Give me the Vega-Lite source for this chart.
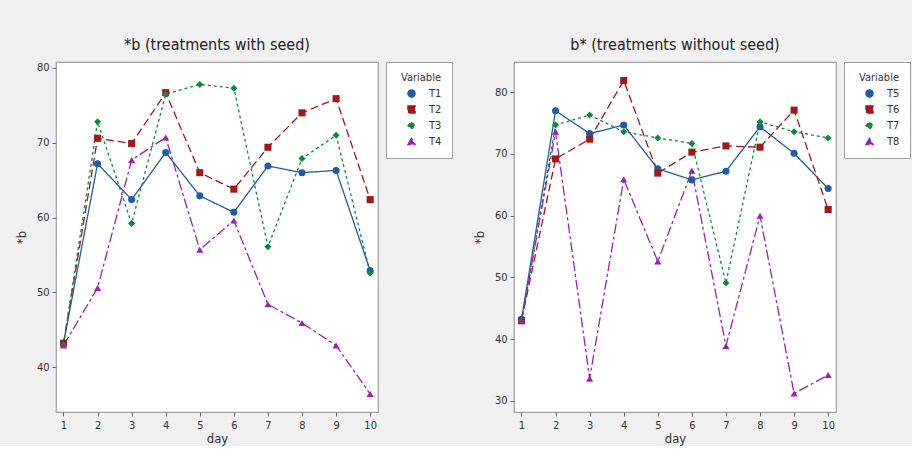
{
  "$schema": "https://vega.github.io/schema/vega-lite/v6.json",
  "background": "#f0f0f0",
  "padding": {"left": 14, "top": 35, "right": 0, "bottom": 0},
  "spacing": 18,
  "datasets": {
    "seed": [
      {"day": 1, "b": 43.2, "Variable": "T1"}, {"day": 2, "b": 67.2, "Variable": "T1"}, {"day": 3, "b": 62.4, "Variable": "T1"}, {"day": 4, "b": 68.7, "Variable": "T1"}, {"day": 5, "b": 62.9, "Variable": "T1"},
      {"day": 6, "b": 60.7, "Variable": "T1"}, {"day": 7, "b": 66.9, "Variable": "T1"}, {"day": 8, "b": 66.0, "Variable": "T1"}, {"day": 9, "b": 66.3, "Variable": "T1"}, {"day": 10, "b": 52.9, "Variable": "T1"},
      {"day": 1, "b": 43.2, "Variable": "T2"}, {"day": 2, "b": 70.6, "Variable": "T2"}, {"day": 3, "b": 69.9, "Variable": "T2"}, {"day": 4, "b": 76.7, "Variable": "T2"}, {"day": 5, "b": 66.0, "Variable": "T2"},
      {"day": 6, "b": 63.8, "Variable": "T2"}, {"day": 7, "b": 69.4, "Variable": "T2"}, {"day": 8, "b": 74.0, "Variable": "T2"}, {"day": 9, "b": 75.9, "Variable": "T2"}, {"day": 10, "b": 62.4, "Variable": "T2"},
      {"day": 1, "b": 43.0, "Variable": "T3"}, {"day": 2, "b": 72.8, "Variable": "T3"}, {"day": 3, "b": 59.2, "Variable": "T3"}, {"day": 4, "b": 76.5, "Variable": "T3"}, {"day": 5, "b": 77.8, "Variable": "T3"},
      {"day": 6, "b": 77.3, "Variable": "T3"}, {"day": 7, "b": 56.1, "Variable": "T3"}, {"day": 8, "b": 67.9, "Variable": "T3"}, {"day": 9, "b": 71.0, "Variable": "T3"}, {"day": 10, "b": 52.6, "Variable": "T3"},
      {"day": 1, "b": 42.9, "Variable": "T4"}, {"day": 2, "b": 50.6, "Variable": "T4"}, {"day": 3, "b": 67.7, "Variable": "T4"}, {"day": 4, "b": 70.7, "Variable": "T4"}, {"day": 5, "b": 55.7, "Variable": "T4"},
      {"day": 6, "b": 59.6, "Variable": "T4"}, {"day": 7, "b": 48.4, "Variable": "T4"}, {"day": 8, "b": 45.9, "Variable": "T4"}, {"day": 9, "b": 42.9, "Variable": "T4"}, {"day": 10, "b": 36.4, "Variable": "T4"}
    ],
    "noseed": [
      {"day": 1, "b": 43.2, "Variable": "T5"}, {"day": 2, "b": 77.0, "Variable": "T5"}, {"day": 3, "b": 73.3, "Variable": "T5"}, {"day": 4, "b": 74.7, "Variable": "T5"}, {"day": 5, "b": 67.6, "Variable": "T5"},
      {"day": 6, "b": 65.8, "Variable": "T5"}, {"day": 7, "b": 67.2, "Variable": "T5"}, {"day": 8, "b": 74.4, "Variable": "T5"}, {"day": 9, "b": 70.1, "Variable": "T5"}, {"day": 10, "b": 64.4, "Variable": "T5"},
      {"day": 1, "b": 43.0, "Variable": "T6"}, {"day": 2, "b": 69.2, "Variable": "T6"}, {"day": 3, "b": 72.4, "Variable": "T6"}, {"day": 4, "b": 81.9, "Variable": "T6"}, {"day": 5, "b": 66.9, "Variable": "T6"},
      {"day": 6, "b": 70.3, "Variable": "T6"}, {"day": 7, "b": 71.3, "Variable": "T6"}, {"day": 8, "b": 71.1, "Variable": "T6"}, {"day": 9, "b": 77.1, "Variable": "T6"}, {"day": 10, "b": 61.0, "Variable": "T6"},
      {"day": 1, "b": 43.0, "Variable": "T7"}, {"day": 2, "b": 74.7, "Variable": "T7"}, {"day": 3, "b": 76.3, "Variable": "T7"}, {"day": 4, "b": 73.6, "Variable": "T7"}, {"day": 5, "b": 72.6, "Variable": "T7"},
      {"day": 6, "b": 71.7, "Variable": "T7"}, {"day": 7, "b": 49.1, "Variable": "T7"}, {"day": 8, "b": 75.2, "Variable": "T7"}, {"day": 9, "b": 73.6, "Variable": "T7"}, {"day": 10, "b": 72.6, "Variable": "T7"},
      {"day": 1, "b": 42.9, "Variable": "T8"}, {"day": 2, "b": 73.6, "Variable": "T8"}, {"day": 3, "b": 33.6, "Variable": "T8"}, {"day": 4, "b": 65.9, "Variable": "T8"}, {"day": 5, "b": 52.6, "Variable": "T8"},
      {"day": 6, "b": 67.3, "Variable": "T8"}, {"day": 7, "b": 38.9, "Variable": "T8"}, {"day": 8, "b": 60.0, "Variable": "T8"}, {"day": 9, "b": 31.2, "Variable": "T8"}, {"day": 10, "b": 34.2, "Variable": "T8"}
    ]
  },
  "resolve": {
    "scale": {"color": "independent", "shape": "independent", "strokeDash": "independent", "y": "independent"},
    "legend": {"color": "independent", "shape": "independent", "strokeDash": "independent"}
  },
  "hconcat": [
    {
      "width": 322,
      "height": 350,
      "title": {"text": "*b  (treatments with seed)"},
      "data": {"name": "seed"},
      "encoding": {
        "x": {"field": "day", "type": "quantitative", "scale": {"domain": [0.78, 10.23], "nice": false, "zero": false}, "axis": {"values": [1, 2, 3, 4, 5, 6, 7, 8, 9, 10], "title": "day"}},
        "y": {"field": "b", "type": "quantitative", "scale": {"domain": [34, 80.8], "nice": false, "zero": false}, "axis": {"values": [40, 50, 60, 70, 80], "title": "*b"}},
        "color": {"field": "Variable", "type": "nominal", "scale": {"domain": ["T1", "T2", "T3", "T4"], "range": ["#1f5ca8", "#a4161a", "#0b8a3a", "#9c1fb8"]}, "legend": {"title": "Variable"}}
      },
      "layer": [
        {
          "mark": {"type": "line", "strokeWidth": 1.3},
          "encoding": {
            "strokeDash": {"field": "Variable", "type": "nominal", "scale": {"domain": ["T1", "T2", "T3", "T4"], "range": [[1, 0], [8, 4], [3, 3], [10, 3, 3, 3]]}, "legend": {"title": "Variable"}}
          }
        },
        {
          "mark": {"type": "point", "filled": true, "opacity": 1, "size": 50},
          "encoding": {
            "shape": {"field": "Variable", "type": "nominal", "scale": {"domain": ["T1", "T2", "T3", "T4"], "range": ["circle", "square", "diamond", "triangle-up"]}, "legend": {"title": "Variable"}}
          }
        }
      ]
    },
    {
      "width": 322,
      "height": 350,
      "title": {"text": "b* (treatments without seed)"},
      "data": {"name": "noseed"},
      "encoding": {
        "x": {"field": "day", "type": "quantitative", "scale": {"domain": [0.78, 10.23], "nice": false, "zero": false}, "axis": {"values": [1, 2, 3, 4, 5, 6, 7, 8, 9, 10], "title": "day"}},
        "y": {"field": "b", "type": "quantitative", "scale": {"domain": [28.2, 84.9], "nice": false, "zero": false}, "axis": {"values": [30, 40, 50, 60, 70, 80], "title": "*b"}},
        "color": {"field": "Variable", "type": "nominal", "scale": {"domain": ["T5", "T6", "T7", "T8"], "range": ["#1f5ca8", "#a4161a", "#0b8a3a", "#9c1fb8"]}, "legend": {"title": "Variable"}}
      },
      "layer": [
        {
          "mark": {"type": "line", "strokeWidth": 1.3},
          "encoding": {
            "strokeDash": {"field": "Variable", "type": "nominal", "scale": {"domain": ["T5", "T6", "T7", "T8"], "range": [[1, 0], [8, 4], [3, 3], [10, 3, 3, 3]]}, "legend": {"title": "Variable"}}
          }
        },
        {
          "mark": {"type": "point", "filled": true, "opacity": 1, "size": 50},
          "encoding": {
            "shape": {"field": "Variable", "type": "nominal", "scale": {"domain": ["T5", "T6", "T7", "T8"], "range": ["circle", "square", "diamond", "triangle-up"]}, "legend": {"title": "Variable"}}
          }
        }
      ]
    }
  ],
  "config": {
    "font": "DejaVu Sans Condensed, Lato, sans-serif",
    "view": {"fill": "white", "stroke": "#a0a0a0", "strokeWidth": 1.2},
    "title": {"fontSize": 16, "fontWeight": "normal", "color": "#222", "offset": 9, "anchor": "middle", "font": "DejaVu Sans Condensed, Lato, sans-serif"},
    "axis": {"domain": false, "grid": false, "tickColor": "#666", "tickSize": 4, "labelColor": "#333", "labelFontSize": 11, "labelFont": "DejaVu Sans Condensed, Lato, sans-serif", "titleFont": "DejaVu Sans Condensed, Lato, sans-serif", "titleFontSize": 13, "titleFontWeight": "normal", "titleColor": "#333", "labelPadding": 3},
    "axisX": {"titlePadding": 2},
    "axisY": {"titlePadding": 8},
    "legend": {"orient": "right", "offset": 8, "strokeColor": "#a0a0a0", "fillColor": "white", "padding": 10, "titleFont": "DejaVu Sans Condensed, Lato, sans-serif", "titleFontWeight": "normal", "titleFontSize": 11, "titleColor": "#333", "titleAnchor": "end", "labelFont": "DejaVu Sans Condensed, Lato, sans-serif", "labelFontSize": 11, "labelColor": "#333", "symbolSize": 50, "symbolOffset": 10, "symbolStrokeWidth": 1.4, "rowPadding": 3, "labelOffset": 12}
  }
}
